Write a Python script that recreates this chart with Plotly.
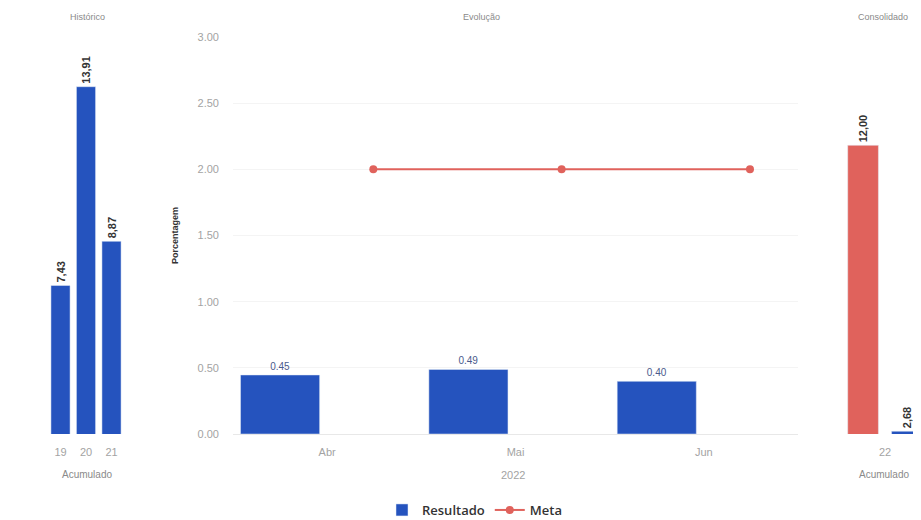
import numpy as np
import plotly.graph_objects as go

# ---------------- data ----------------
hist_years = ["19", "20", "21"]
hist_values = [7.43, 13.91, 8.87]
hist_labels = ["7,43", "13,91", "8,87"]

months = ["Abr", "Mai", "Jun"]
resultado = [0.446, 0.488, 0.398]
meta = [2.00, 2.00, 2.00]

cons_year = ["22"]
cons_meta = [12.00]
cons_meta_labels = ["12,00"]
cons_result = [2.68]
cons_result_labels = ["2,68"]

y_ticks = [0, 0.5, 1.0, 1.5, 2.0, 2.5, 3.0]

# ---------------- style ----------------
BLUE = "#2553be"
RED = "#e0625c"
GRAY = "#a3a3a3"
DARK = "#333333"
FONT = "Liberation Sans, Arial, sans-serif"

# the page body has an 8px margin: lay the figure out in page pixels minus it
OFF = 8
PW, PH = 921, 520            # page / window size
W, H = PW - OFF, PH - OFF    # figure size
TOP, BOT = 37, 434           # plot area top / bottom in page pixels


def fx(px):
    return (px - OFF) / W


def fy(py):
    return (BOT - py) / (BOT - TOP)


idx = np.arange(len(months))

fig = go.Figure()

side_text = dict(size=11, color=DARK, family=FONT, weight="bold")

# Histórico
fig.add_trace(go.Bar(
    x=hist_years, y=hist_values, xaxis="x", yaxis="y",
    width=0.75,
    marker_color=BLUE, showlegend=False, name="Resultado",
    text=hist_labels, textposition="outside", textangle=-90, cliponaxis=False,
    constraintext="none", textfont=side_text,
))

# Evolução
fig.add_trace(go.Bar(
    x=idx, y=resultado, xaxis="x2", yaxis="y2",
    offset=-0.46, width=0.42,
    marker_color=BLUE, name="Resultado",
    texttemplate="%{y:.2f}", textposition="outside", textangle=0, cliponaxis=False,
    constraintext="none",
    textfont=dict(size=10, color="#4a5a8c", family=FONT),
))
fig.add_trace(go.Scatter(
    x=idx + 0.245, y=meta, xaxis="x2", yaxis="y2",
    mode="lines+markers", name="Meta",
    line=dict(color=RED, width=2), marker=dict(color=RED, size=8),
))

# Consolidado
fig.add_trace(go.Bar(
    x=cons_year, y=cons_meta, xaxis="x3", yaxis="y3",
    marker_color=RED, showlegend=False, name="Meta",
    text=cons_meta_labels, textposition="outside", textangle=-90, cliponaxis=False,
    constraintext="none", textfont=side_text,
))
fig.add_trace(go.Bar(
    x=cons_year, y=cons_result, xaxis="x3", yaxis="y3",
    marker_color=BLUE, showlegend=False, name="Resultado",
    text=cons_result_labels, textposition="outside", textangle=-90, cliponaxis=False,
    constraintext="none", textfont=side_text,
))

side_range = [2.59, 15.53]
tickfont = dict(size=11, color=GRAY, family=FONT)

fig.update_layout(
    width=W, height=H,
    margin=dict(l=0, r=0, t=TOP - OFF, b=(H + OFF) - BOT),
    paper_bgcolor="white", plot_bgcolor="white",
    barmode="group", bargap=0.25, bargroupgap=0.3,
    font=dict(family=FONT, color=DARK),
    xaxis=dict(domain=[fx(47.75), fx(124.25)], type="category", range=[-0.5, 2.5],
               showgrid=False, zeroline=False, showline=False, ticks="",
               tickfont=tickfont, ticklabelstandoff=10, anchor="y"),
    yaxis=dict(domain=[0, 1], range=side_range, visible=False, anchor="x"),
    xaxis2=dict(domain=[fx(233), fx(798)], range=[-0.5, 2.5],
                tickvals=idx, ticktext=months,
                showgrid=False, zeroline=False, showline=False, ticks="",
                tickfont=tickfont, ticklabelstandoff=10, anchor="y2"),
    yaxis2=dict(domain=[0, 1], range=[0, 3], tickvals=y_ticks, tickformat=".2f",
                showgrid=True, gridcolor="#f4f4f4", zeroline=True, zerolinecolor="#e8e8e8",
                zerolinewidth=1, showline=False, ticks="", tickfont=tickfont,
                ticklabelstandoff=13, anchor="x2"),
    xaxis3=dict(domain=[fx(826.5), 1], type="category", range=[-0.5, 0.3077],
                showgrid=False, zeroline=False, showline=False, ticks="",
                tickfont=tickfont, ticklabelstandoff=10, anchor="y3"),
    yaxis3=dict(domain=[0, 1], range=side_range, visible=False, anchor="x3"),
    legend=dict(orientation="h", xref="container", yref="container",
                x=(382 - OFF) / W, xanchor="left",
                y=(PH - 510) / H, yanchor="middle",
                font=dict(size=13, color=DARK, family="Open Sans, sans-serif", weight=600)),
)

annotations = []


def add_text(text, px, py, size=9, color="#8a8a8a", angle=0, weight="normal"):
    annotations.append(dict(
        text=text, xref="paper", yref="paper",
        x=fx(px), y=fy(py),
        xanchor="center", yanchor="middle", showarrow=False, textangle=angle,
        font=dict(size=size, color=color, family=FONT, weight=weight),
    ))


add_text("Histórico", 87, 17)
add_text("Evolução", 481, 17)
add_text("Consolidado", 883, 17)
add_text("Acumulado", 87, 474, size=10)
add_text("2022", 513, 475, size=11, color=GRAY)
add_text("Acumulado", 884, 475, size=10)
add_text("Porcentagem", 175, 236, size=9, color=DARK, angle=-90, weight="bold")

fig.update_layout(annotations=annotations)

fig.write_html("out.html")
